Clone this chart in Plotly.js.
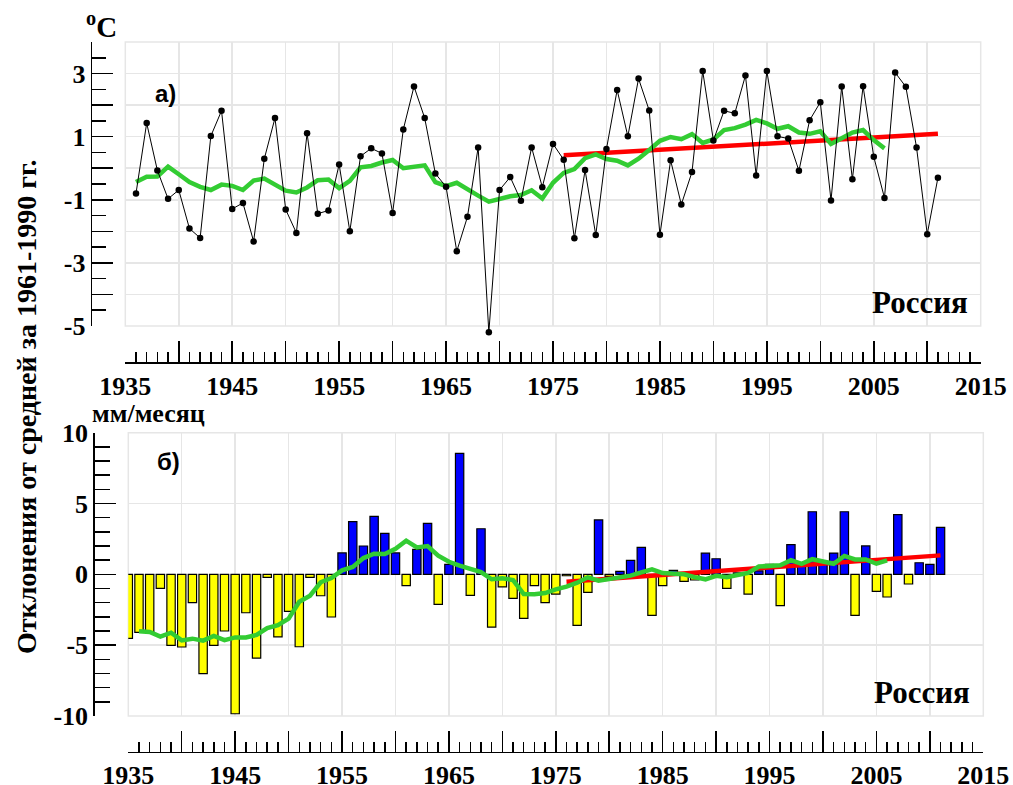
<!DOCTYPE html>
<html>
<head>
<meta charset="utf-8">
<script src="https://cdn.plot.ly/plotly-3.0.1.min.js"></script>
<style>html,body{margin:0;padding:0;background:#fff;}#chart{width:1013px;height:785px;}</style>
</head>
<body>
<div id="chart"></div>
<script>
// ---------- DATA ----------
const tempYearStart = 1936;
const tempValues = [-0.80, 1.43, -0.07, -0.97, -0.69, -1.91, -2.21, 1.02, 1.82, -1.29,
  -1.10, -2.32, 0.30, 1.59, -1.31, -2.05, 1.11, -1.44, -1.34, 0.12,
  -2.00, 0.38, 0.63, 0.47, -1.42, 1.23, 2.59, 1.59, -0.17, -0.59,
  -2.63, -1.54, 0.66, -5.20, -0.69, -0.28, -1.03, 0.66, -0.60, 0.77,
  0.27, -2.22, -0.06, -2.12, 0.61, 2.48, 1.01, 2.84, 1.83, -2.11,
  0.25, -1.15, -0.12, 3.08, 0.88, 1.82, 1.74, 2.94, -0.23, 3.08,
  1.01, 0.94, -0.08, 1.52, 2.09, -1.02, 2.59, -0.35, 2.60, 0.36,
  -0.94, 3.03, 2.58, 0.66, -2.09, -0.30];
const tempSmoothStart = 1936;
const tempSmooth = [-0.44, -0.27, -0.26, 0.05, -0.19, -0.44, -0.59, -0.69, -0.52, -0.56,
  -0.69, -0.39, -0.33, -0.53, -0.71, -0.77, -0.61, -0.38, -0.36, -0.63,
  -0.40, 0.03, 0.07, 0.18, 0.26, 0.00, 0.06, 0.09, -0.44, -0.57,
  -0.46, -0.68, -0.87, -1.06, -0.96, -0.89, -0.85, -0.70, -0.96, -0.46,
  -0.15, -0.03, 0.32, 0.44, 0.29, 0.24, 0.09, 0.30, 0.58, 0.87,
  0.99, 0.92, 1.08, 0.80, 0.91, 1.21, 1.27, 1.38, 1.53, 1.42,
  1.25, 1.33, 1.13, 1.09, 1.17, 0.77, 0.95, 1.13, 1.21, 0.89, 0.63];
const tempTrendYears = [1976, 2011];
const tempTrendValues = [0.41, 1.09];

const precYearStart = 1935;
const precValues = [-4.52, -4.09, -4.07, -0.99, -5.01, -5.13, -2.00, -7.01, -5.01, -4.00,
  -9.84, -2.71, -5.91, -0.21, -4.42, -2.61, -5.11, -0.21, -1.51, -3.01,
  1.51, 3.72, 2.00, 4.09, 2.89, 1.51, -0.80, 1.76, 3.60, -2.12,
  0.71, 8.54, -1.48, 3.22, -3.72, -0.89, -1.69, -3.11, -0.80, -2.00,
  -1.39, -0.10, -3.60, -1.27, 3.84, -0.15, 0.21, 0.99, 1.91, -2.89,
  -0.80, 0.28, -0.49, -0.40, 1.50, 1.10, -0.99, 0.10, -1.39, 0.25,
  0.71, -2.21, 2.10, 0.70, 4.42, 0.70, 1.50, 4.42, -2.89, 2.01,
  -1.20, -1.60, 4.21, -0.68, 0.82, 0.71, 3.32];
const precSmoothStart = 1936;
const precSmooth = [-4.02, -4.07, -4.40, -4.12, -4.66, -4.54, -4.68, -4.35, -4.64, -4.45,
  -4.45, -4.28, -3.79, -3.58, -3.13, -1.93, -1.51, -0.56, -0.26, 0.28,
  0.52, 1.15, 1.46, 1.44, 1.81, 2.38, 1.90, 2.00, 1.32, 0.89,
  0.61, 0.40, 0.16, -0.35, -0.28, -0.40, -1.39, -1.41, -1.32, -1.06,
  -0.87, -0.59, -0.21, -0.45, -0.33, -0.16, -0.09, 0.14, 0.35, 0.09,
  0.05, 0.00, -0.20, -0.35, -0.10, -0.20, -0.05, 0.10, 0.55, 0.58,
  0.64, 1.00, 0.74, 1.07, 0.90, 0.75, 1.30, 1.05, 1.05, 0.75, 0.98];
const precTrendYears = [1976, 2011];
const precTrendValues = [-0.52, 1.34];

const xTickVals = [1935, 1940, 1945, 1950, 1955, 1960, 1965, 1970, 1975, 1980, 1985, 1990, 1995, 2000, 2005, 2010, 2015];
const xTickText = ['1935', '', '1945', '', '1955', '', '1965', '', '1975', '', '1985', '', '1995', '', '2005', '', '2015'];
const tTickVals = [-5, -4, -3, -2, -1, 0, 1, 2, 3, 4];
const tTickText = ['-5', '', '-3', '', '-1', '', '1', '', '3', ''];
const pTickVals = [-10, -5, 0, 5, 10];
const pTickText = ['-10', '-5', '0', '5', '10'];

const labelTop = 'а)';
const labelBottom = 'б)';
const regionName = 'Россия';
const unitTop = '<sup>o</sup>C';
const unitBottom = 'мм/месяц';
const yTitle = 'Отклонения от средней за 1961-1990 гг.';

// ---------- BUILD ----------
const yearsFrom = (start, arr) => arr.map((_, i) => start + i);
const W = 1013, H = 785;
const px = v => v / W;
const py = v => 1 - v / H;

const SERIF = 'Liberation Serif, Times New Roman, serif';
const SANS = 'Liberation Sans, Arial, sans-serif';
const GREEN = '#33cc33';
const GRID = '#e6e6e6';

// top panel geometry (pixels): y=4 at 42px, y=-5 at 326px
const TOP_Y0 = 42, TOP_Y1 = 326, TOP_MIN = -5, TOP_MAX = 4;
const PXU = (TOP_Y1 - TOP_Y0) / (TOP_MAX - TOP_MIN);
const EXT_PX = 20; // extra room below the frame for the black series
const EXT_MIN = TOP_MIN - EXT_PX / PXU;

const traces = [
  {type: 'scatter', mode: 'lines', x: tempTrendYears, y: tempTrendValues, xaxis: 'x', yaxis: 'y',
   line: {color: '#ff0000', width: 4.5}},
  {type: 'scatter', mode: 'lines', x: yearsFrom(tempSmoothStart, tempSmooth), y: tempSmooth, xaxis: 'x', yaxis: 'y',
   line: {color: GREEN, width: 4.5}},
  {type: 'scatter', mode: 'lines+markers', x: yearsFrom(tempYearStart, tempValues), y: tempValues, xaxis: 'x3', yaxis: 'y3',
   line: {color: '#000', width: 1}, marker: {color: '#000', size: 6.5}, cliponaxis: false},
  {type: 'bar', x: yearsFrom(precYearStart, precValues), y: precValues, xaxis: 'x2', yaxis: 'y2',
   width: 0.78, cliponaxis: false,
   marker: {color: precValues.map(v => v >= 0 ? '#0000ff' : '#ffff00'), line: {color: '#000', width: 1.2}}},
  {type: 'scatter', mode: 'lines', x: precTrendYears, y: precTrendValues, xaxis: 'x2', yaxis: 'y2',
   line: {color: '#ff0000', width: 4.5}},
  {type: 'scatter', mode: 'lines', x: yearsFrom(precSmoothStart, precSmooth), y: precSmooth, xaxis: 'x2', yaxis: 'y2',
   line: {color: GREEN, width: 4.5}}
];

const tickFont = {family: SERIF, size: 26, color: '#000', weight: 'bold'};

function xAxis(domain, pos) {
  return {
    domain: domain, anchor: 'free', position: pos, range: [1935, 2015],
    tickmode: 'array', tickvals: xTickVals, ticktext: xTickText,
    ticks: 'inside', ticklen: 21, tickwidth: 1.5, tickcolor: '#000',
    showline: true, linecolor: '#000', linewidth: 1.5,
    showgrid: true, gridcolor: GRID, gridwidth: 1.5, zeroline: false,
    minor: {tick0: 1935, dtick: 1, ticks: 'inside', ticklen: 10, tickwidth: 1.5, tickcolor: '#000', showgrid: false},
    tickfont: tickFont, fixedrange: true
  };
}
function yAxis(domain, pos, range, vals, text, minorD, minorLen) {
  return {
    domain: domain, anchor: 'free', position: pos, range: range,
    tickmode: 'array', tickvals: vals, ticktext: text,
    ticks: 'inside', ticklen: 21, tickwidth: 1.5, tickcolor: '#000',
    showline: true, linecolor: '#000', linewidth: 1.5,
    showgrid: true, gridcolor: GRID, gridwidth: 1.5, zeroline: false,
    minor: {dtick: minorD, ticks: 'inside', ticklen: minorLen, tickwidth: 1.5, tickcolor: '#000', showgrid: false},
    tickfont: tickFont, fixedrange: true
  };
}

const topX = [px(125.3), px(980.7)];
const topY = [py(TOP_Y1), py(TOP_Y0)];
const botX = [px(128.3), px(983.3)];
const botY = [py(716), py(432.7)];

const layout = {
  width: W, height: H, autosize: false,
  margin: {l: 0, r: 0, t: 0, b: 0},
  paper_bgcolor: '#fff', plot_bgcolor: 'rgba(0,0,0,0)',
  showlegend: false,
  xaxis: xAxis(topX, py(362)),
  yaxis: yAxis(topY, px(90.7), [TOP_MIN, TOP_MAX], tTickVals, tTickText, 0.5, 14),
  xaxis2: xAxis(botX, py(751.7)),
  yaxis2: yAxis(botY, px(93.3), [-10, 10], pTickVals, pTickText, 1, 15),
  xaxis3: {domain: topX, range: [1935, 2015], anchor: 'y3', visible: false, fixedrange: true},
  yaxis3: {domain: [py(TOP_Y1 + EXT_PX), py(TOP_Y0)], range: [EXT_MIN, TOP_MAX], anchor: 'x3', visible: false, fixedrange: true},
  shapes: [
    {type: 'rect', xref: 'x domain', yref: 'y domain', x0: 0, x1: 1, y0: 0, y1: 1, line: {color: GRID, width: 1.5}, layer: 'below'},
    {type: 'rect', xref: 'x2 domain', yref: 'y2 domain', x0: 0, x1: 1, y0: 0, y1: 1, line: {color: GRID, width: 1.5}, layer: 'below'}
  ],
  annotations: [
    {text: unitTop, xref: 'paper', yref: 'paper', x: px(101), y: py(25), xanchor: 'center', yanchor: 'middle', showarrow: false,
     font: {family: SERIF, size: 29, color: '#000', weight: 'bold'}},
    {text: unitBottom, xref: 'paper', yref: 'paper', x: px(148), y: py(413), xanchor: 'center', yanchor: 'middle', showarrow: false,
     font: {family: SERIF, size: 26, color: '#000', weight: 'bold'}},
    {text: labelTop, xref: 'paper', yref: 'paper', x: px(165), y: py(94), xanchor: 'center', yanchor: 'middle', showarrow: false,
     font: {family: SANS, size: 24, color: '#000', weight: 'bold'}},
    {text: labelBottom, xref: 'paper', yref: 'paper', x: px(168), y: py(461), xanchor: 'center', yanchor: 'middle', showarrow: false,
     font: {family: SANS, size: 24, color: '#000', weight: 'bold'}},
    {text: regionName, xref: 'paper', yref: 'paper', x: px(920), y: py(302), xanchor: 'center', yanchor: 'middle', showarrow: false,
     font: {family: SERIF, size: 31, color: '#000', weight: 'bold'}},
    {text: regionName, xref: 'paper', yref: 'paper', x: px(922), y: py(692), xanchor: 'center', yanchor: 'middle', showarrow: false,
     font: {family: SERIF, size: 31, color: '#000', weight: 'bold'}},
    {text: yTitle, xref: 'paper', yref: 'paper', x: px(26), y: py(407), xanchor: 'center', yanchor: 'middle', showarrow: false,
     textangle: -90, font: {family: SERIF, size: 28, color: '#000', weight: 'bold'}}
  ]
};

Plotly.newPlot('chart', traces, layout, {staticPlot: true, displayModeBar: false});
</script>
</body>
</html>
